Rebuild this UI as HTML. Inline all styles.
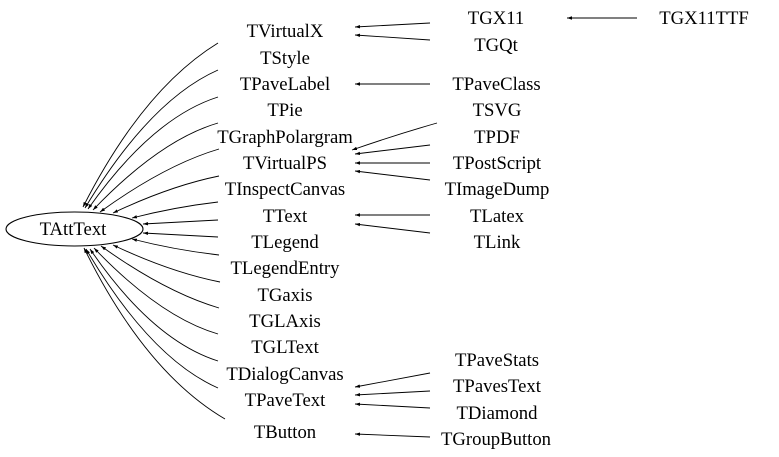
<!DOCTYPE html>
<html><head><meta charset="utf-8"><style>
html,body{margin:0;padding:0;background:#fff;width:779px;height:457px;overflow:hidden}
svg{display:block}
text{font-family:"Liberation Serif",serif;font-size:18.7px;fill:#000;text-anchor:middle}
path,line{stroke:#000;stroke-width:0.9;fill:none}
ellipse{stroke:#000;stroke-width:1.1;fill:#fff}
</style></head><body>
<svg width="779" height="457" viewBox="0 0 779 457" xmlns="http://www.w3.org/2000/svg">
<defs><marker id="a" markerUnits="userSpaceOnUse" markerWidth="5" markerHeight="4" refX="5" refY="2" orient="auto" viewBox="0 0 5 4"><polygon points="5,2 0,0.3 0,3.7" fill="#000"/></marker></defs>
<ellipse cx="74.5" cy="229" rx="68.5" ry="17"/>
<path d="M218,43 Q143,89 83,207" marker-end="url(#a)"/>
<path d="M218,70 Q150,100 85,208" marker-end="url(#a)"/>
<path d="M218,97 Q152,118 88,209" marker-end="url(#a)"/>
<path d="M218,123 Q160,140 93,210" marker-end="url(#a)"/>
<path d="M219,149 Q165,165 100,212" marker-end="url(#a)"/>
<path d="M219,176 Q170,186 113,213" marker-end="url(#a)"/>
<path d="M218,202 Q175,207 132,218" marker-end="url(#a)"/>
<path d="M218,220 L143,224" marker-end="url(#a)"/>
<path d="M218,237 L143,233" marker-end="url(#a)"/>
<path d="M219,255 Q175,250 132,239" marker-end="url(#a)"/>
<path d="M220,282 Q170,272 113,245" marker-end="url(#a)"/>
<path d="M219,308 Q165,292 101,246" marker-end="url(#a)"/>
<path d="M218,334 Q160,317 94,248" marker-end="url(#a)"/>
<path d="M218,361 Q152,340 90,249" marker-end="url(#a)"/>
<path d="M218,388 Q150,358 86,249" marker-end="url(#a)"/>
<path d="M225,419 Q145,372 84,248" marker-end="url(#a)"/>
<path d="M430,23 L355,27" marker-end="url(#a)"/>
<path d="M430,40 L355,35" marker-end="url(#a)"/>
<path d="M430,84 L355,84" marker-end="url(#a)"/>
<path d="M437,123 Q395,135 352,150" marker-end="url(#a)"/>
<path d="M430,145 L355,154" marker-end="url(#a)"/>
<path d="M430,163 L355,163" marker-end="url(#a)"/>
<path d="M430,180 L355,171" marker-end="url(#a)"/>
<path d="M430,215 L355,215" marker-end="url(#a)"/>
<path d="M430,233 L355,224" marker-end="url(#a)"/>
<path d="M637,18 L567,18" marker-end="url(#a)"/>
<path d="M430,373 L355,387" marker-end="url(#a)"/>
<path d="M430,391 L355,395" marker-end="url(#a)"/>
<path d="M430,408 L355,404" marker-end="url(#a)"/>
<path d="M430,437 L355,434" marker-end="url(#a)"/>
<text x="73" y="235">TAttText</text>
<text x="285" y="37">TVirtualX</text>
<text x="285" y="64">TStyle</text>
<text x="285" y="90">TPaveLabel</text>
<text x="285" y="116">TPie</text>
<text x="285" y="143">TGraphPolargram</text>
<text x="285" y="169">TVirtualPS</text>
<text x="285" y="195">TInspectCanvas</text>
<text x="285" y="222">TText</text>
<text x="285" y="248">TLegend</text>
<text x="285" y="274">TLegendEntry</text>
<text x="285" y="301">TGaxis</text>
<text x="285" y="327">TGLAxis</text>
<text x="285" y="353">TGLText</text>
<text x="285" y="380">TDialogCanvas</text>
<text x="285" y="406">TPaveText</text>
<text x="285" y="438">TButton</text>
<text x="496" y="24">TGX11</text>
<text x="496" y="51">TGQt</text>
<text x="496.500" y="90">TPaveClass</text>
<text x="497" y="116">TSVG</text>
<text x="497" y="143">TPDF</text>
<text x="497" y="169">TPostScript</text>
<text x="497" y="195">TImageDump</text>
<text x="497" y="222">TLatex</text>
<text x="497" y="248">TLink</text>
<text x="497" y="366">TPaveStats</text>
<text x="497" y="392">TPavesText</text>
<text x="497" y="419">TDiamond</text>
<text x="496" y="445">TGroupButton</text>
<text x="704" y="24">TGX11TTF</text>
</svg>
</body></html>
